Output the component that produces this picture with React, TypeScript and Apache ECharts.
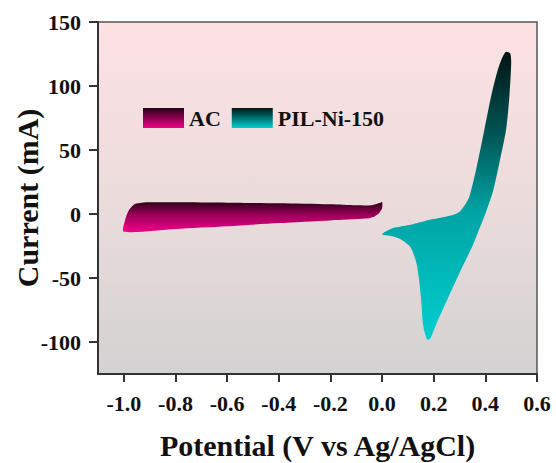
import React, { useEffect, useRef } from "react";
import * as echarts from "echarts";

// Cyclic voltammograms (closed loops), potential in V vs Ag/AgCl, current in mA
const acPotential = [-1.0, -0.995, -0.98, -0.957, -0.93, -0.9, -0.8, -0.6, -0.4, -0.2, -0.1, -0.04, -0.01, 0.0, 0.0, -0.012, -0.031, -0.063, -0.2, -0.4, -0.6, -0.8];
const acCurrent = [-13.8, -4.7, 3.1, 7.8, 8.8, 9.1, 9.1, 8.8, 8.4, 7.6, 6.8, 6.9, 8.5, 9.6, 4.4, 0.5, -2.1, -3.6, -5.0, -7.1, -9.6, -11.7];

const pilPotential = [0.0, 0.04, 0.105, 0.17, 0.273, 0.3, 0.325, 0.338, 0.364, 0.396, 0.422, 0.448, 0.467, 0.48, 0.496, 0.5, 0.493, 0.48, 0.454, 0.43, 0.405, 0.38, 0.35, 0.3, 0.25, 0.21, 0.19, 0.176, 0.16, 0.15, 0.135, 0.11, 0.07, 0.03];
const pilCurrent = [-15.9, -11.2, -8.6, -5.2, -0.8, 1.8, 8.4, 13.5, 34.4, 65.6, 91.6, 112.5, 122.9, 126.8, 125.5, 117.7, 91.6, 65.6, 39.6, 18, 3, -10, -25, -46, -68, -86, -96, -98.4, -88, -64, -40, -26, -19.5, -17];

const seriesNames = ["AC", "PIL-Ni-150"];
const xTicks = [-1.0, -0.8, -0.6, -0.4, -0.2, 0.0, 0.2, 0.4, 0.6];
const yTicks = [-100, -50, 0, 50, 100, 150];

const FONT = "'Liberation Serif', 'Times New Roman', serif";

const vGrad = (stops: [number, string][]) =>
  new echarts.graphic.LinearGradient(0, 0, 0, 1, stops.map(([offset, color]) => ({ offset, color })));

const acFill = () => vGrad([[0, "#2a0016"], [0.45, "#a0005c"], [1, "#f00088"]]);
const pilFill = () => vGrad([[0, "#021414"], [0.3, "#005858"], [0.55, "#00a3a3"], [1, "#00cfcf"]]);

const toPoints = (xs: number[], ys: number[]) => xs.map((x, i) => [x, ys[i]]);

export default function App() {
  const ref = useRef<HTMLDivElement>(null);

  useEffect(() => {
    if (!ref.current) return;
    const chart = echarts.init(ref.current, undefined, { renderer: "svg" });

    const acData = toPoints(acPotential, acCurrent);
    const pilData = toPoints(pilPotential, pilCurrent);

    // Each loop is drawn once, as a single filled polygon mapped through the axes
    const makeRender = (data: number[][], fill: () => any) => (params: any, api: any) => {
      if (params.dataIndex !== 0) return null;
      const points = data.map((d) => api.coord(d));
      return {
        type: "polygon",
        shape: { points, smooth: 0.25 },
        style: { fill: fill() },
      };
    };

    const axisText = { fontFamily: FONT, fontWeight: "bold" as const, fontSize: 22, color: "#111" };

    chart.setOption({
      animation: false,
      grid: {
        left: 98,
        right: 19,
        top: 22,
        bottom: 89,
        outerBoundsMode: "none",
        containLabel: false,
        show: true,
        borderColor: "#555",
        borderWidth: 1.5,
        backgroundColor: vGrad([[0, "#fde1e3"], [0.5, "#ecdcdc"], [1, "#d3d2d2"]]),
      },
      legend: {
        data: [
          { name: seriesNames[0], itemStyle: { color: vGrad([[0, "#2a0016"], [1, "#f00088"]]) } },
          { name: seriesNames[1], itemStyle: { color: vGrad([[0, "#021414"], [1, "#00cfcf"]]) } },
        ],
        icon: "rect",
        itemWidth: 41,
        itemHeight: 20,
        itemGap: 11,
        left: 138,
        top: 102,
        textStyle: { ...axisText, fontSize: 22 },
      },
      xAxis: {
        type: "value",
        min: -1.1,
        max: 0.6,
        name: "Potential (V vs Ag/AgCl)",
        nameLocation: "middle",
        nameGap: 56,
        nameMoveOverlap: false,
        nameTextStyle: { ...axisText, fontSize: 30 },
        axisLine: { onZero: false, lineStyle: { color: "#333", width: 2 } },
        axisTick: { show: true, customValues: xTicks, length: 8, lineStyle: { color: "#333", width: 2 } },
        axisLabel: { customValues: xTicks, margin: 18, formatter: (v: number) => v.toFixed(1), ...axisText },
        splitLine: { show: false },
      },
      yAxis: {
        type: "value",
        min: -125,
        max: 150,
        name: "Current (mA)",
        nameLocation: "middle",
        nameGap: 56,
        nameMoveOverlap: false,
        nameTextStyle: { ...axisText, fontSize: 30 },
        axisLine: { onZero: false, lineStyle: { color: "#333", width: 2 } },
        axisTick: { show: true, customValues: yTicks, length: 9, lineStyle: { color: "#333", width: 2 } },
        axisLabel: { customValues: yTicks, margin: 17, ...axisText },
        splitLine: { show: false },
      },
      series: [
        {
          name: seriesNames[0],
          type: "custom",
          data: acData,
          renderItem: makeRender(acData, acFill),
          itemStyle: { color: "#c0006c" },
          encode: { x: 0, y: 1 },
        },
        {
          name: seriesNames[1],
          type: "custom",
          data: pilData,
          renderItem: makeRender(pilData, pilFill),
          itemStyle: { color: "#00a0a0" },
          encode: { x: 0, y: 1 },
        },
      ],
    });

    return () => chart.dispose();
  }, []);

  return (
    <div
      ref={ref}
      style={{ position: "fixed", left: 0, top: 0, width: 556, height: 463, background: "#fff" }}
    />
  );
}
